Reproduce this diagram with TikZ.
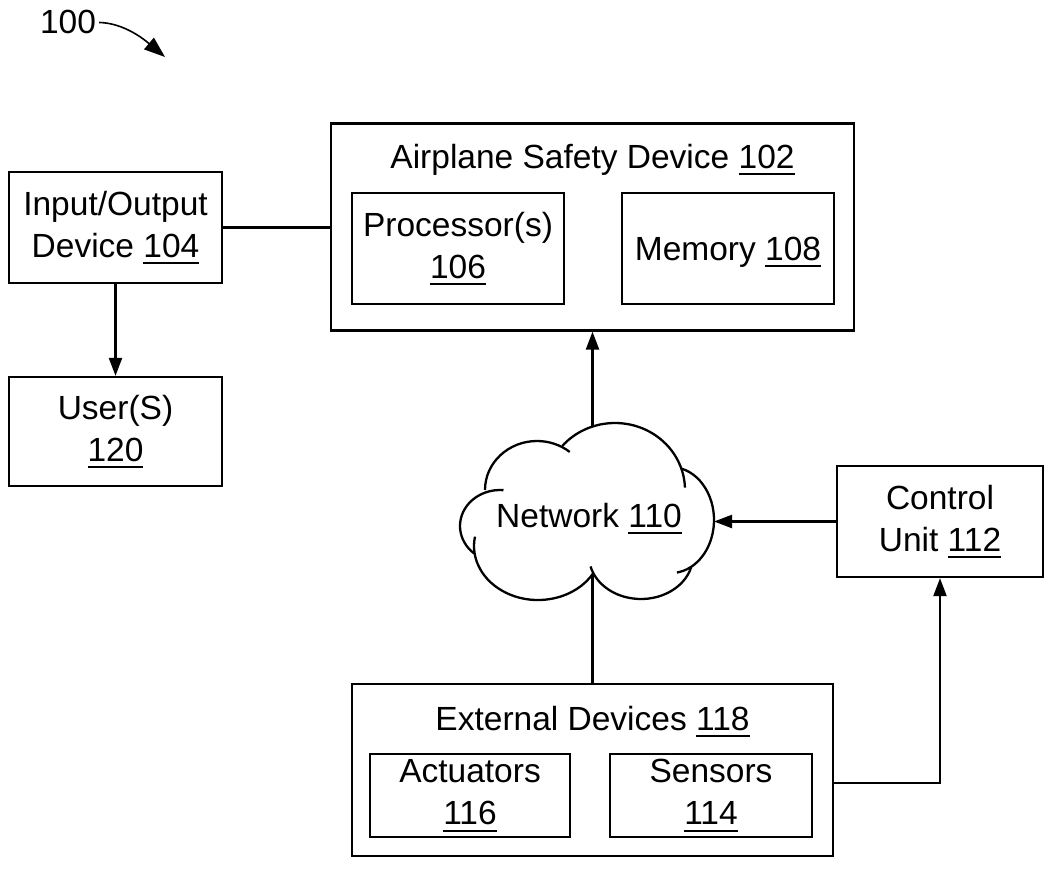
\documentclass[tikz,border=0pt]{standalone}
\usepackage{fontspec}
\setmainfont{Liberation Sans}
\usetikzlibrary{arrows.meta}

% underlined reference numeral
\newcommand{\refnum}[1]{\setbox0=\hbox{#1}\rlap{\rule[-7pt]{\wd0}{1.8pt}}\box0}

\begin{document}
\begin{tikzpicture}
    [x=1pt, y=-1pt, line width=2.3pt,
     every node/.style={font=\fontsize{33.5}{42}\selectfont},
     block/.style={rectangle, draw, align=center, inner sep=0pt},
     arr/.style={-{Triangle[length=18pt, width=13pt]}}]
    \useasboundingbox (0,0) rectangle (1044,883);

    \node[anchor=base, inner sep=2pt] (fig) at (68,34) {100};
    \coordinate (figtip) at (165,57);

    % safety device with processor and memory
    \node[block, minimum width=523pt, minimum height=207pt] (asd) at (592.5,227) {};
    \node[anchor=base] (asdtitle) at (592.5,168) {Airplane Safety Device \refnum{102}};
    \node[block, minimum width=212pt, minimum height=111pt] (proc) at (458,248.5) {Processor(s)\\\refnum{106}};
    \node[block, minimum width=212pt, minimum height=111pt, text depth=0pt] (mem) at (728,248.5) {Memory \refnum{108}};

    \node[block, minimum width=213pt, minimum height=111pt] (io) at (115.5,227.5) {Input/Output\\Device \refnum{104}};
    \node[block, minimum width=213pt, minimum height=109pt] (user) at (115.5,431.5) {User(S)\\\refnum{120}};

    % network cloud, one arc per puff
    \draw ([shift={(130:40 and 36)}]500,526) arc[start angle=130, end angle=275, x radius=40, y radius=36];
    \draw ([shift={(180:52 and 49)}]537,490) arc[start angle=180, end angle=309, x radius=52, y radius=49];
    \draw ([shift={(221:70 and 67)}]615,490) arc[start angle=221, end angle=358, x radius=70, y radius=67];
    \draw ([shift={(284:43 and 53)}]671,520) arc[start angle=284, end angle=442, x radius=43, y radius=53];
    \draw ([shift={(15:52 and 43)}]641,556) arc[start angle=15, end angle=166, x radius=52, y radius=43];
    \draw ([shift={(30:64 and 54)}]538,546) arc[start angle=30, end angle=190, x radius=64, y radius=54];
    \node[anchor=base] (net) at (589,527) {Network \refnum{110}};
    \coordinate (nettop) at (592.5,426);
    \coordinate (netright) at (714,521.5);
    \coordinate (netbot) at (592.5,574);

    \node[block, minimum width=206pt, minimum height=111pt] (ctrl) at (940,521.5) {Control\\Unit \refnum{112}};

    % external devices
    \node[block, minimum width=481pt, minimum height=172pt] (ext) at (592.5,770) {};
    \node[anchor=base] (exttitle) at (592.5,730) {External Devices \refnum{118}};
    \node[block, minimum width=200pt, minimum height=83pt] (act) at (470,795.5) {Actuators\\\refnum{116}};
    \node[block, minimum width=202pt, minimum height=83pt] (sens) at (711,795.5) {Sensors\\\refnum{114}};

    % connectors
    \draw[-{Triangle[length=21pt, width=15pt]}, line width=1.6pt] (fig.east) .. controls (125,23) and (146,41) .. (figtip);
    \draw (io.east) -- (io.east -| asd.west);
    \draw[arr] (io) -- (user);
    \draw[arr] (nettop) -- (asd.south);
    \draw[arr] (ctrl.west) -- (netright);
    \draw (ext.north) -- (netbot);
    \draw[arr] ([yshift=-13pt]ext.east) -| (ctrl.south);
\end{tikzpicture}
\end{document}
